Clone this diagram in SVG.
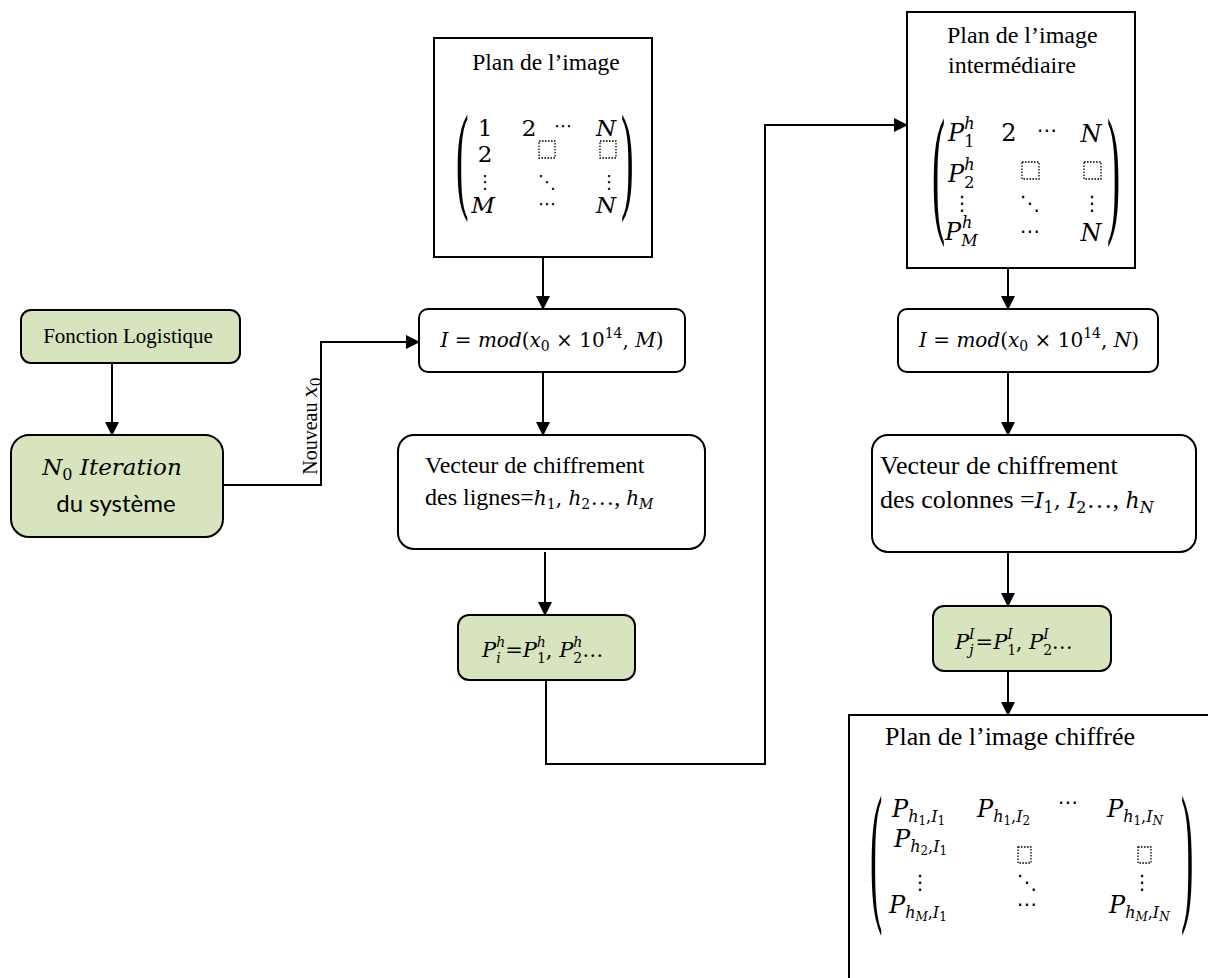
<svg xmlns="http://www.w3.org/2000/svg" width="1208" height="978" viewBox="0 0 1208 978">
<style>
.box{fill:#fff;stroke:#000;stroke-width:2}
.g{fill:#d7e4bd;stroke:#000;stroke-width:2}
.c{fill:none;stroke:#000;stroke-width:2}
.t{font-family:"Liberation Serif","Times New Roman",serif;fill:#000}
.m{font-family:"DejaVu Serif",serif;fill:#000;font-size:20px}
.mb{font-size:24px}
.mc{font-size:23px}
.i{font-style:italic}
.u{font-style:normal}
.s16{font-size:16px}
.s14{font-size:14px}
.s12{font-size:12px}
.d{font-family:"DejaVu Sans",sans-serif;fill:#000;font-size:20px}
.ds{font-size:18px}
.p{font-family:"Liberation Serif",serif;fill:#000}
.ph{fill:none;stroke:#000;stroke-width:1.3;stroke-dasharray:1.6 1.4}
.sans{font-family:Lato,"Open Sans",sans-serif;fill:#000}
</style>
<defs>
<marker id="ar" markerUnits="userSpaceOnUse" markerWidth="14" markerHeight="14" viewBox="0 0 14 14" refX="13" refY="7" orient="auto">
<path d="M0,0 L14,7 L0,14 Z" fill="#000"/>
</marker>
</defs>

<g id="connectors">
<line class="c" x1="112" y1="363" x2="112" y2="435" marker-end="url(#ar)"/>
<path class="c" d="M223,485 H321 V342 H419" marker-end="url(#ar)"/>
<line class="c" x1="543" y1="257" x2="543" y2="309" marker-end="url(#ar)"/>
<line class="c" x1="543" y1="372" x2="543" y2="435" marker-end="url(#ar)"/>
<line class="c" x1="545" y1="552" x2="545" y2="615" marker-end="url(#ar)"/>
<path class="c" d="M546,680 V764 H765 V125 H907" marker-end="url(#ar)"/>
<line class="c" x1="1008" y1="268" x2="1008" y2="309" marker-end="url(#ar)"/>
<line class="c" x1="1008" y1="372" x2="1008" y2="435" marker-end="url(#ar)"/>
<line class="c" x1="1008" y1="552" x2="1008" y2="606" marker-end="url(#ar)"/>
<line class="c" x1="1008" y1="671" x2="1008" y2="715" marker-end="url(#ar)"/>
<text class="t" font-size="20" transform="translate(317,426) rotate(-90)" text-anchor="middle">Nouveau <tspan class="m i">x</tspan><tspan class="m u s14" dy="4">0</tspan></text>
</g>

<g id="fonction">
<rect class="g" x="21" y="310" width="219" height="53" rx="10"/>
<text class="t" x="128" y="343" font-size="21" text-anchor="middle">Fonction Logistique</text>
</g>

<g id="iteration">
<rect class="g" x="11" y="435" width="212" height="102" rx="18"/>
<text class="m i" x="112" y="475" text-anchor="middle" style="font-size:23px">N<tspan class="u" style="font-size:16px" dy="5">0</tspan><tspan dy="-5"> Iteration</tspan></text>
<text class="sans" x="116" y="512" font-size="24" text-anchor="middle">du système</text>
</g>

<g id="plan1">
<rect class="box" x="434" y="38" width="218" height="219"/>
<text class="t" x="546" y="70" font-size="23.5" text-anchor="middle">Plan de l’image</text>
<text class="p" font-size="118" transform="translate(456,197) scale(0.32,1)">(</text>
<text class="p" font-size="118" transform="translate(621,197) scale(0.32,1)">)</text>
<text class="m mc u" x="485" y="136" text-anchor="middle">1</text>
<text class="m mc u" x="529" y="136" text-anchor="middle">2</text>
<text class="d ds" x="563" y="132" text-anchor="middle">⋯</text>
<text class="m mc i" x="606" y="136" text-anchor="middle">N</text>
<text class="m mc u" x="485" y="162" text-anchor="middle">2</text>
<rect class="ph" x="539" y="141" width="16" height="17"/>
<rect class="ph" x="600" y="141" width="16" height="17"/>
<text class="d ds" x="485" y="188" text-anchor="middle">⋮</text>
<text class="d ds" x="547" y="188" text-anchor="middle">⋱</text>
<text class="d ds" x="609" y="188" text-anchor="middle">⋮</text>
<text class="m mc i" x="483" y="213" text-anchor="middle">M</text>
<text class="d ds" x="547" y="210" text-anchor="middle">⋯</text>
<text class="m mc i" x="606" y="213" text-anchor="middle">N</text>
</g>

<g id="mod1">
<rect class="box" x="419" y="309" width="266" height="63" rx="9"/>
<text class="m i" x="552" y="347" text-anchor="middle">I <tspan class="u">=</tspan> mod<tspan class="u">(</tspan>x<tspan class="u s14" dy="4">0</tspan><tspan class="u" dy="-4"> × 10</tspan><tspan class="u s14" dy="-9">14</tspan><tspan class="u" dy="9">, </tspan>M<tspan class="u">)</tspan></text>
</g>

<g id="vecteur1">
<rect class="box" x="398" y="435" width="307" height="114" rx="16"/>
<text class="t" x="425" y="473" font-size="24">Vecteur de chiffrement</text>
<text class="t" x="425" y="505" font-size="24">des lignes=<tspan class="m i">h</tspan><tspan class="m u s14" dy="4">1</tspan><tspan class="m u" dy="-4">, </tspan><tspan class="m i">h</tspan><tspan class="m u s14" dy="4">2</tspan><tspan dy="-4">…, </tspan><tspan class="m i">h</tspan><tspan class="m i s14" dy="4">M</tspan></text>
</g>

<g id="pih">
<rect class="g" x="458" y="615" width="177" height="65" rx="11"/>
<text class="m i" x="482" y="657" style="font-size:21px">P<tspan class="s14" dy="6">i</tspan><tspan class="s14" dx="-4.5" dy="-16">h</tspan><tspan class="u" dy="10">=</tspan>P<tspan class="u s14" dy="6">1</tspan><tspan class="s14" dx="-9" dy="-16">h</tspan><tspan class="u" dy="10">, </tspan>P<tspan class="u s14" dy="6">2</tspan><tspan class="s14" dx="-9" dy="-16">h</tspan><tspan class="u" dy="10">…</tspan></text>
</g>

<g id="plan2">
<rect class="box" x="907" y="12" width="228" height="256"/>
<text class="t" x="947" y="43" font-size="24">Plan de l’image</text>
<text class="t" x="948" y="73" font-size="24">intermédiaire</text>
<text class="p" font-size="141" transform="translate(932,217) scale(0.28,1)">(</text>
<text class="p" font-size="141" transform="translate(1107,217) scale(0.28,1)">)</text>
<text class="m mb i" x="948" y="141">P<tspan class="u s16" dy="6">1</tspan><tspan class="s16" dx="-10" dy="-18">h</tspan></text>
<text class="m mb u" x="1009" y="141" text-anchor="middle">2</text>
<text class="d" x="1047" y="137" text-anchor="middle">⋯</text>
<text class="m mb i" x="1091" y="142" text-anchor="middle">N</text>
<text class="m mb i" x="948" y="182">P<tspan class="u s16" dy="6">2</tspan><tspan class="s16" dx="-10" dy="-18">h</tspan></text>
<rect class="ph" x="1022" y="162" width="17" height="17"/>
<rect class="ph" x="1084" y="162" width="17" height="17"/>
<text class="d" x="962" y="210" text-anchor="middle">⋮</text>
<text class="d" x="1030" y="210" text-anchor="middle">⋱</text>
<text class="d" x="1092" y="210" text-anchor="middle">⋮</text>
<text class="m mb i" x="945" y="240">P<tspan class="s16" dy="6">M</tspan><tspan class="s16" dx="-15.5" dy="-18">h</tspan></text>
<text class="d" x="1030" y="238" text-anchor="middle">⋯</text>
<text class="m mb i" x="1091" y="241" text-anchor="middle">N</text>
</g>

<g id="mod2">
<rect class="box" x="898" y="309" width="260" height="63" rx="9"/>
<text class="m i" x="1029" y="347" text-anchor="middle">I <tspan class="u">=</tspan> mod<tspan class="u">(</tspan>x<tspan class="u s14" dy="4">0</tspan><tspan class="u" dy="-4"> × 10</tspan><tspan class="u s14" dy="-9">14</tspan><tspan class="u" dy="9">, </tspan>N<tspan class="u">)</tspan></text>
</g>

<g id="vecteur2">
<rect class="box" x="872" y="435" width="324" height="117" rx="16"/>
<text class="t" x="880" y="474" font-size="26">Vecteur de chiffrement</text>
<text class="t" x="880" y="508" font-size="26">des colonnes =<tspan class="m i" style="font-size:22px">I</tspan><tspan class="m u s16" dy="5">1</tspan><tspan class="m u" style="font-size:22px" dy="-5">, </tspan><tspan class="m i" style="font-size:22px">I</tspan><tspan class="m u s16" dy="5">2</tspan><tspan dy="-5">…, </tspan><tspan class="m i" style="font-size:22px">h</tspan><tspan class="m i s16" dy="5">N</tspan></text>
</g>

<g id="pjl">
<rect class="g" x="933" y="606" width="178" height="65" rx="11"/>
<text class="m i" x="955" y="649" style="font-size:21px">P<tspan class="s14" dy="6">j</tspan><tspan class="s14" dx="-4.5" dy="-16">I</tspan><tspan class="u" dx="1" dy="10">=</tspan>P<tspan class="u s14" dy="6">1</tspan><tspan class="s14" dx="-9" dy="-16">I</tspan><tspan class="u" dx="3" dy="10">, </tspan>P<tspan class="u s14" dy="6">2</tspan><tspan class="s14" dx="-9" dy="-16">I</tspan><tspan class="u" dx="3" dy="10">…</tspan></text>
</g>

<g id="plan3">
<rect class="box" x="849" y="715" width="420" height="300"/>
<text class="t" x="1010" y="745" font-size="26" text-anchor="middle">Plan de l’image chiffrée</text>
<text class="p" font-size="155" transform="translate(870,903) scale(0.24,1)">(</text>
<text class="p" font-size="155" transform="translate(1181,903) scale(0.24,1)">)</text>
<text class="m mb i" x="892" y="817">P<tspan class="s16" dy="5">h</tspan><tspan class="u s12" dy="3">1</tspan><tspan class="u s16" dy="-3">,</tspan><tspan class="s16">I</tspan><tspan class="u s12" dy="3">1</tspan></text>
<text class="m mb i" x="977" y="817">P<tspan class="s16" dy="5">h</tspan><tspan class="u s12" dy="3">1</tspan><tspan class="u s16" dy="-3">,</tspan><tspan class="s16">I</tspan><tspan class="u s12" dy="3">2</tspan></text>
<text class="d" x="1068" y="809" text-anchor="middle">⋯</text>
<text class="m mb i" x="1107" y="817">P<tspan class="s16" dy="5">h</tspan><tspan class="u s12" dy="3">1</tspan><tspan class="u s16" dy="-3">,</tspan><tspan class="s16">I</tspan><tspan class="s12" dy="3">N</tspan></text>
<text class="m mb i" x="894" y="847">P<tspan class="s16" dy="5">h</tspan><tspan class="u s12" dy="3">2</tspan><tspan class="u s16" dy="-3">,</tspan><tspan class="s16">I</tspan><tspan class="u s12" dy="3">1</tspan></text>
<rect class="ph" x="1018" y="847" width="13" height="16"/>
<rect class="ph" x="1138" y="847" width="13" height="16"/>
<text class="d" x="920" y="889" text-anchor="middle">⋮</text>
<text class="d" x="1027" y="889" text-anchor="middle">⋱</text>
<text class="d" x="1142" y="889" text-anchor="middle">⋮</text>
<text class="m mb i" x="889" y="913">P<tspan class="s16" dy="5">h</tspan><tspan class="s12" dy="3">M</tspan><tspan class="u s16" dy="-3">,</tspan><tspan class="s16">I</tspan><tspan class="u s12" dy="3">1</tspan></text>
<text class="d" x="1027" y="911" text-anchor="middle">⋯</text>
<text class="m mb i" x="1109" y="913">P<tspan class="s16" dy="5">h</tspan><tspan class="s12" dy="3">M</tspan><tspan class="u s16" dy="-3">,</tspan><tspan class="s16">I</tspan><tspan class="s12" dy="3">N</tspan></text>
</g>
</svg>
